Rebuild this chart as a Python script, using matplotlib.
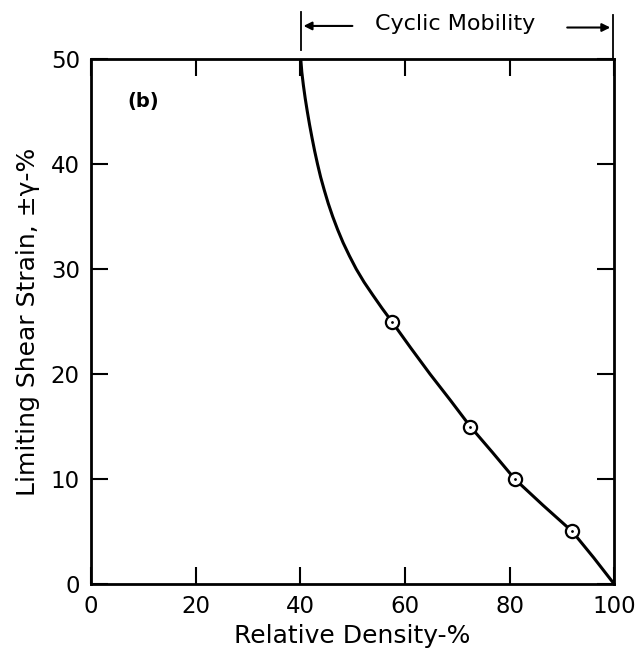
import numpy as np
import matplotlib
matplotlib.use("Agg")
import matplotlib.pyplot as plt
import matplotlib.transforms as mtransforms

# measured points (relative density %, limiting shear strain %)
dr_pts = [57.5, 72.5, 81.0, 92.0]
gamma_pts = [25, 15, 10, 5]

# curve
curve_dr = [40.1, 40.3, 40.6, 40.95, 41.35, 41.78, 42.25, 42.75, 43.3, 43.9, 44.6,
            45.35, 46.2, 47.15, 48.2, 49.4, 50.7, 52.2, 53.9, 55.65, 57.5,
            61.1, 64.8, 68.7, 72.5, 76.8, 81.0, 86.4, 92.0, 96.1, 100.0]
curve_gamma = [50.0, 48.75, 47.5, 46.25, 45.0, 43.75, 42.5, 41.25, 40.0, 38.75, 37.5,
               36.25, 35.0, 33.75, 32.5, 31.25, 30.0, 28.75, 27.5, 26.25, 25.0,
               22.5, 20.0, 17.5, 15.0, 12.5, 10.0, 7.5, 5.0, 2.5, 0.0]

x_ticks = [0, 20, 40, 60, 80, 100]
y_ticks = [0, 10, 20, 30, 40, 50]

plt.rcParams['font.family'] = ['DejaVu Sans']

fig = plt.figure(figsize=(6.38, 6.55), dpi=100)
ax = fig.add_axes([0.1426, 0.1084, 0.820, 0.8015])

ax.plot(curve_dr, curve_gamma, color='black', lw=2.2, solid_capstyle='round',
        solid_joinstyle='round', zorder=2)
ax.plot(dr_pts, gamma_pts, 'o', ms=9.5, mfc='white', mec='black', mew=1.6, zorder=3)
ax.plot(dr_pts, gamma_pts, '.', ms=2, color='black', zorder=4)

ax.set_xlim(0, 100)
ax.set_ylim(0, 50)
ax.set_xticks(x_ticks)
ax.set_yticks(y_ticks)
ax.tick_params(direction='in', length=12, width=1.5, labelsize=16.5, pad=8,
               top=True, right=True)
for s in ax.spines.values():
    s.set_linewidth(2)

ax.set_xlabel('Relative Density-%', fontsize=18, labelpad=4)
ax.set_ylabel('Limiting Shear Strain, \u00b1\u03b3-%', fontsize=18, labelpad=8)

ax.text(10, 46, '(b)', fontsize=14, fontweight='bold', ha='center', va='center')

# Cyclic Mobility bracket above the axes
tr = mtransforms.blended_transform_factory(ax.transData, ax.transAxes)
ax.plot([40.1, 40.1], [1.017, 1.09], color='black', lw=1.3, transform=tr, clip_on=False)
ax.plot([99.8, 99.8], [1.0, 1.083], color='black', lw=1.3, transform=tr, clip_on=False)
ax.annotate('', xy=(40.1, 1.063), xytext=(50.5, 1.063), xycoords=tr, textcoords=tr,
            arrowprops=dict(arrowstyle='-|>', color='black', lw=1.5, mutation_scale=12))
ax.annotate('', xy=(99.8, 1.060), xytext=(90.5, 1.060), xycoords=tr, textcoords=tr,
            arrowprops=dict(arrowstyle='-|>', color='black', lw=1.5, mutation_scale=12))
ax.text(69.6, 1.066, 'Cyclic Mobility', fontsize=16, ha='center', va='center',
        transform=tr)

fig.savefig('out.png', dpi=100)
